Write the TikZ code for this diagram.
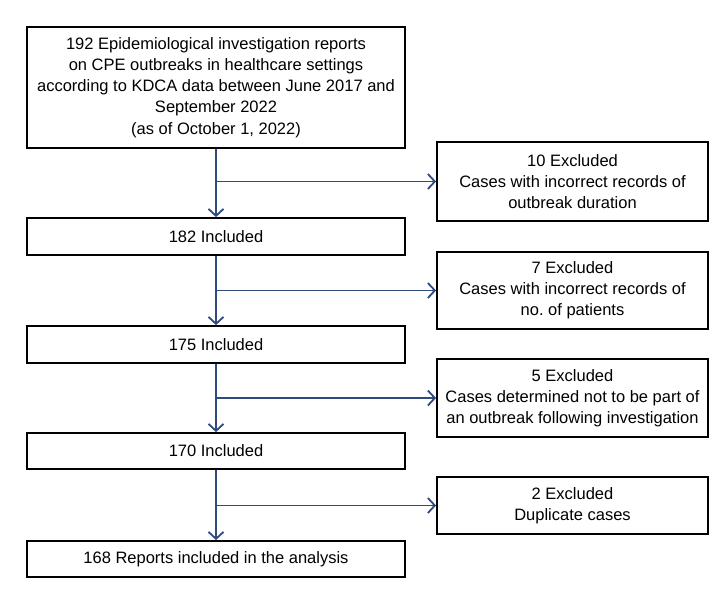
\documentclass[tikz,border=0pt]{standalone}
\usepackage{fontspec}
\setmainfont{Liberation Sans}
\usetikzlibrary{arrows.meta}
\definecolor{arrblue}{HTML}{2F4A7F}
\begin{document}
\begin{tikzpicture}[x=1pt,y=-1pt,
  box/.style={draw=black,line width=1.8pt,rectangle,inner sep=0pt,align=center,
    font=\fontsize{16.5}{21.2}\selectfont},
  mainbox/.style={box,minimum width=378pt},
  exbox/.style={box,minimum width=271pt},
  arr/.style={draw=arrblue,line width=1.8pt,-{Straight Barb[length=7pt,width=15pt,line width=1.8pt]}}
]
\useasboundingbox (0,0) rectangle (728,600);
\node[mainbox,minimum height=121pt] (top) at (216,87.5) {192 Epidemiological investigation reports\\on CPE outbreaks in healthcare settings\\according to KDCA data between June 2017 and\\September 2022\\(as of October 1, 2022)};
\node[exbox,minimum height=79pt] (ex1) at (572.5,181.5) {10 Excluded\\Cases with incorrect records of\\outbreak duration};
\node[mainbox,minimum height=37pt] (i182) at (216,236.5) {182 Included};
\node[exbox,minimum height=77pt] (ex2) at (572.5,290.5) {7 Excluded\\Cases with incorrect records of\\no.\ of patients};
\node[mainbox,minimum height=37pt] (i175) at (216,344.5) {175 Included};
\node[exbox,minimum height=78pt] (ex3) at (572.5,398) {5 Excluded\\Cases determined not to be part of\\an outbreak following investigation};
\node[mainbox,minimum height=36pt] (i170) at (216,451) {170 Included};
\node[exbox,minimum height=57pt] (ex4) at (572.5,505.5) {2 Excluded\\Duplicate cases};
\node[mainbox,minimum height=36pt] (fin) at (216,559) {168 Reports included in the analysis};
\draw[arr] (top.south) -- (i182.north);
\draw[arr] (i182.south) -- (i175.north);
\draw[arr] (i175.south) -- (i170.north);
\draw[arr] (i170.south) -- (fin.north);
\draw[arr] (top.south |- ex1.west) -- (ex1.west);
\draw[arr] (i182.south |- ex2.west) -- (ex2.west);
\draw[arr] (i175.south |- ex3.west) -- (ex3.west);
\draw[arr] (i170.south |- ex4.west) -- (ex4.west);
\end{tikzpicture}
\end{document}
